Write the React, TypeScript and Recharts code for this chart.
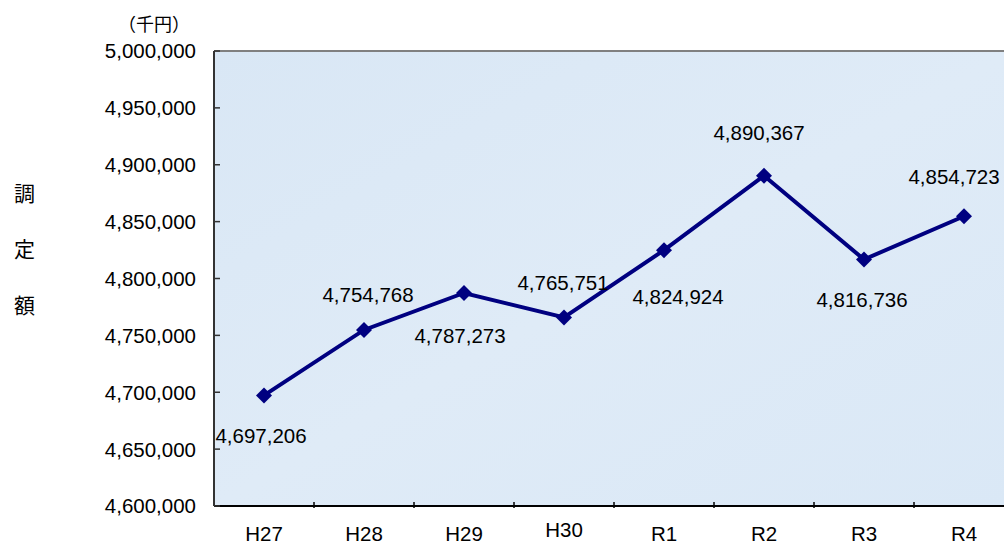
import React from "react";
import {
  LineChart,
  Line,
  XAxis,
  YAxis,
  CartesianGrid,
  ReferenceLine,
  LabelList,
} from "recharts";

// ---- data ----
const categories = ["H27", "H28", "H29", "H30", "R1", "R2", "R3", "R4"];
const amounts = [4697206, 4754768, 4787273, 4765751, 4824924, 4890367, 4816736, 4854723];
const yTicks = [4600000, 4650000, 4700000, 4750000, 4800000, 4850000, 4900000, 4950000, 5000000];
const unitLabel = "（千円）";
const yTitleChars = ["調", "定", "額"];

// label placement (style): offset of label centre from point
const labelDx = [-3, 4, -4, -1, 14, -5, -2, -10];
const labelDy = [40, -35, 43, -35, 46, -43, 40, -40];
const xTickDy = [0, 0, 0, -4, 0, 0, 0, 0];

const data = categories.map((c, i) => ({ name: c, value: amounts[i] }));

const FONT = "'Liberation Sans', 'Noto Sans CJK JP', sans-serif";
const CJK = "'Noto Sans CJK JP', sans-serif";
const fmt = (v: number) => v.toLocaleString("en-US");

const CHART_W = 1100;
const CHART_H = 545;
const MARGIN = { top: 51, right: 86, bottom: 0, left: 0 };
const Y_W = 214;
const X_H = 39;
const BAND = (CHART_W - MARGIN.left - MARGIN.right - Y_W) / categories.length;

const YTick = (props: any) => {
  const { x, y, payload } = props;
  return (
    <g>
      <line x1={x} x2={x + 6} y1={y} y2={y} stroke="#333" strokeWidth={1.5} />
      <text
        x={x - 18}
        y={y}
        dy="0.36em"
        textAnchor="end"
        fontSize={20.5}
        fontFamily={FONT}
        fill="#000"
      >
        {fmt(payload.value)}
      </text>
    </g>
  );
};

const XTick = (props: any) => {
  const { x, y, payload, index } = props;
  const bx = x + BAND / 2;
  return (
    <g>
      {index < categories.length - 1 && (
        <line x1={bx} x2={bx} y1={y} y2={y - 6} stroke="#000" strokeWidth={1.5} />
      )}
      <text
        x={x}
        y={y + 26 + (xTickDy[index] || 0)}
        dy="0.36em"
        textAnchor="middle"
        fontSize={20.5}
        fontFamily={FONT}
        fill="#000"
      >
        {payload.value}
      </text>
    </g>
  );
};

const Diamond = (props: any) => {
  const { cx, cy } = props;
  if (cx == null || cy == null) return null;
  const s = 8;
  return (
    <path
      d={`M${cx},${cy - s} L${cx + s},${cy} L${cx},${cy + s} L${cx - s},${cy} Z`}
      fill="#000080"
      stroke="none"
    />
  );
};

const ValueLabel = (props: any) => {
  const { x, y, value, index } = props;
  return (
    <text
      x={x + (labelDx[index] || 0)}
      y={y + (labelDy[index] || 0)}
      dy="0.36em"
      textAnchor="middle"
      fontSize={20.5}
      fontFamily={FONT}
      fill="#000"
    >
      {fmt(value)}
    </text>
  );
};

export default function App() {
  return (
    <div
      style={{
        position: "absolute",
        left: 0,
        top: 0,
        width: 1004,
        height: 545,
        overflow: "hidden",
        background: "#fff",
      }}
    >
      <div
        style={{
          position: "absolute",
          left: 118,
          top: 11,
          fontSize: 18,
          fontFamily: CJK,
          lineHeight: "24px",
        }}
      >
        {unitLabel}
      </div>
      {yTitleChars.map((ch, i) => (
        <div
          key={ch}
          style={{
            position: "absolute",
            left: 14,
            top: 180 + i * 56,
            fontSize: 21,
            fontFamily: CJK,
            lineHeight: "24px",
          }}
        >
          {ch}
        </div>
      ))}
      <div style={{ position: "absolute", left: 0, top: 0 }}>
        <LineChart width={CHART_W} height={CHART_H} data={data} margin={MARGIN}>
          <defs>
            <linearGradient id="bg" x1="0" y1="0" x2="1" y2="1">
              <stop offset="0%" stopColor="#d9e7f5" />
              <stop offset="50%" stopColor="#dfebf7" />
              <stop offset="100%" stopColor="#dae8f6" />
            </linearGradient>
          </defs>
          <CartesianGrid horizontal={false} vertical={false} fill="url(#bg)" />
          <XAxis
            dataKey="name"
            height={X_H}
            tickLine={false}
            tickSize={0}
            tick={<XTick />}
            axisLine={{ stroke: "#000", strokeWidth: 2 }}
            interval={0}
            padding={{ left: BAND / 2, right: BAND / 2 }}
          />
          <YAxis
            width={Y_W}
            domain={[4600000, 5000000]}
            ticks={yTicks}
            tickLine={false}
            tickSize={0}
            tickMargin={0}
            tick={<YTick />}
            axisLine={{ stroke: "#333", strokeWidth: 2 }}
            interval={0}
          />
          <ReferenceLine y={5000000} stroke="#808080" strokeWidth={2} />
          <Line
            type="linear"
            dataKey="value"
            stroke="#000080"
            strokeWidth={4}
            dot={<Diamond />}
            activeDot={false}
            isAnimationActive={false}
          >
            <LabelList dataKey="value" content={<ValueLabel />} />
          </Line>
        </LineChart>
      </div>
    </div>
  );
}
